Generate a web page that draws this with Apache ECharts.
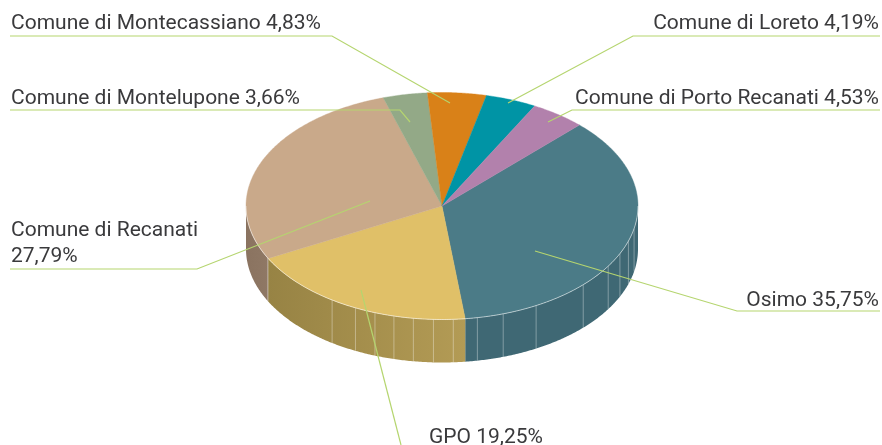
<!DOCTYPE html>
<html>
<head>
<meta charset="utf-8">
<style>
  html, body { margin: 0; padding: 0; background: #fff; }
  #chart { width: 882px; height: 445px; }
</style>
<script src="https://cdn.jsdelivr.net/npm/echarts@6/dist/echarts.min.js"></script>
</head>
<body>
<div id="chart"></div>
<script>
// clockwise from the start angle, as in the picture
const names = ["Osimo", "GPO", "Comune di Recanati", "Comune di Montelupone", "Comune di Montecassiano", "Comune di Loreto", "Comune di Porto Recanati"];
const values = [35.75, 19.25, 27.79, 3.66, 4.83, 4.19, 4.53];
const topColors = ["#4b7b87", "#e0c068", "#c9a98a", "#93a987", "#d98118", "#0094a5", "#b281ac"];
// wall shading, left colour and right colour of each slice
const sideLeft = ["#3f6874", "#978344", "#8a7360", "#93a987", "#d98118", "#0094a5", "#b281ac"];
const sideRight = ["#3f6874", "#b39b55", "#8f7865", "#93a987", "#d98118", "#0094a5", "#b281ac"];

// pie geometry
const cx = 442, cy = 206, rx = 196, ry = 113.5, depth = 43, startAngle = 44.5;
// light seams on the wall, degrees clockwise from the top
const seams = [101.5, 108, 114.8, 122, 133.9, 151.3, 161.8, 169.6, 176.7, 182.5, 188.4, 194.2, 200, 206.2, 214.1, 242.8];

// label placement: text anchor plus the leader line under it
const labelLayout = [
  { x: 879, y: 314, align: "right", line: [[535, 251], [737, 311], [880, 311]] },
  { x: 429, y: 451, align: "left", line: [[361, 290], [401, 445]] },
  { x: 11, y: 270, align: "left", twoLines: true, line: [[370, 201], [197, 269], [10, 269]] },
  { x: 11, y: 112, align: "left", line: [[410, 122], [400, 110], [10, 110]] },
  { x: 11, y: 37, align: "left", line: [[450, 103], [332, 36], [10, 36]] },
  { x: 879, y: 37, align: "right", line: [[508, 103], [633, 36], [880, 36]] },
  { x: 879, y: 112, align: "right", line: [[548, 122], [572, 110], [880, 110]] }
];

const total = values.reduce((a, b) => a + b, 0);

function pointAt(deg, dy) {
  const r = deg * Math.PI / 180;
  return [cx + rx * Math.sin(r), cy - ry * Math.cos(r) + (dy || 0)];
}

function arc(from, to, dy) {
  const pts = [];
  const n = Math.max(2, Math.ceil(Math.abs(to - from) * 2));
  for (let i = 0; i <= n; i++) {
    pts.push(pointAt(from + (to - from) * i / n, dy));
  }
  return pts;
}

function renderSlice(params, api) {
  const i = params.dataIndex;
  let sum = 0;
  for (let k = 0; k < i; k++) sum += values[k];
  const from = startAngle + sum / total * 360;
  const to = from + api.value(0) / total * 360;
  const children = [];

  // wall, only the part facing front
  const a = Math.max(from, 90), b = Math.min(to, 270);
  if (b > a) {
    const top = arc(a, b, 0), bottom = arc(b, a, depth);
    const xs = top.map(p => p[0]);
    children.push({
      type: "polygon",
      z2: 1,
      shape: { points: top.concat(bottom) },
      style: {
        fill: new echarts.graphic.LinearGradient(Math.max.apply(null, xs), 0, Math.min.apply(null, xs), 0, [
          { offset: 0, color: sideRight[i] },
          { offset: 1, color: sideLeft[i] }
        ], true),
        stroke: null
      }
    });
    seams.filter(s => s >= a && s <= b).forEach(s => {
      const p = pointAt(s, 0), q = pointAt(s, depth);
      children.push({
        type: "line",
        z2: 2,
        shape: { x1: p[0], y1: p[1], x2: q[0], y2: q[1] },
        style: { stroke: "rgba(255,255,255,0.35)", lineWidth: 1 }
      });
    });
    children.push({
      type: "polyline",
      z2: 4,
      shape: { points: top },
      style: { stroke: "rgba(255,255,255,0.55)", lineWidth: 1, fill: null }
    });
  }

  // top face
  children.push({
    type: "polygon",
    z2: 3,
    shape: { points: [[cx, cy]].concat(arc(from, to, 0)) },
    style: { fill: topColors[i], stroke: topColors[i], lineWidth: 0.4 }
  });

  // leader and label
  const lay = labelLayout[i];
  const pct = api.value(0).toFixed(2).replace(".", ",") + "%";
  children.push({
    type: "polyline",
    z2: 5,
    shape: { points: lay.line },
    style: { stroke: "#b5d56f", lineWidth: 1.2, fill: null }
  });
  children.push({
    type: "text",
    z2: 6,
    style: {
      x: lay.x,
      y: lay.y,
      text: names[i] + (lay.twoLines ? "\n" : " ") + pct,
      fill: "#3a3a3c",
      font: "21px Roboto",
      lineHeight: 26,
      align: lay.align,
      verticalAlign: "bottom"
    }
  });
  return { type: "group", children: children };
}

const chart = echarts.init(document.getElementById("chart"), null, { renderer: "canvas" });
chart.setOption({
  animation: false,
  backgroundColor: "#fff",
  series: [{
    type: "custom",
    coordinateSystem: "none",
    renderItem: renderSlice,
    data: values.map(v => [v])
  }]
});
</script>
</body>
</html>
